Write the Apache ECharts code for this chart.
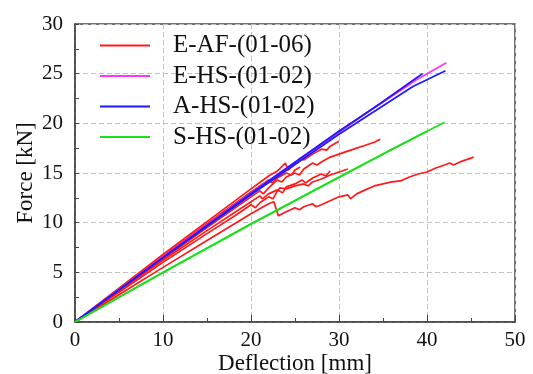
<!DOCTYPE html>
<html>
<head>
<meta charset="utf-8">
<script src="https://cdn.jsdelivr.net/npm/echarts@6/dist/echarts.min.js"></script>
<style>
html,body{margin:0;padding:0;background:#fff;}
#c{width:533px;height:374px;}
</style>
</head>
<body>
<div id="c"></div>
<script>
// ---- data (Deflection [mm], Force [kN]) ----
const xTicks = [0, 10, 20, 30, 40, 50];
const yTicks = [0, 5, 10, 15, 20, 25, 30];
const legendNames = ['E-AF-(01-06)', 'E-HS-(01-02)', 'A-HS-(01-02)', 'S-HS-(01-02)'];

const eaf1 = [[0,0],[5,3.4],[10,6.8],[15,10.1],[20,13.4],[22,14.7],[23,15.2],[23.9,16.0],[24.2,15.3],[25,15.9],[25.6,16.5],[26,16.3],[27,16.9],[28,17.4],[28.6,17.3],[29,17.7],[30,18.2]];
const eaf2 = [[0,0],[5,3.2],[10,6.3],[15,9.5],[20,12.6],[21,13.2],[21.4,12.9],[22,13.5],[23,14.3],[23.5,14.1],[24,14.6],[25,15.0],[25.5,14.8],[26,15.4],[27,16.0],[27.5,15.8],[28,16.1],[29,16.6],[30,16.9],[31,17.2],[32,17.5],[33,17.8],[34,18.1],[34.7,18.4]];
const eaf3 = [[0,0],[5,3.15],[10,6.2],[15,9.2],[20,12.1],[21,12.7],[21.3,12.4],[22,12.9],[23,13.3],[23.6,13.0],[24,13.6],[25,13.9],[25.8,14.3],[26.2,14.0],[27,14.5],[28,14.9],[28.5,14.7],[29,15.2]];
const eaf4 = [[0,0],[5,3.0],[10,6.0],[15,8.9],[18,10.6],[19,11.2],[20,11.8],[20.5,11.5],[21,12.0],[22,12.6],[22.5,12.4],[23,13.2],[23.3,13.5],[24,13.4],[25,13.7],[26,13.9],[26.5,13.7],[27,14.1],[28,14.4],[29,14.8],[30,15.1],[31,15.4]];
const eaf5 = [[0,0],[5,2.75],[10,5.5],[15,8.2],[20,10.9],[21,11.4],[22,11.9],[22.6,12.1],[23.1,10.7],[24,11.1],[25,11.5],[25.5,11.3],[26,11.6],[27,11.9],[27.4,11.6],[28,11.8],[29,12.2],[30,12.6],[31,12.8],[31.3,12.4],[32,12.9],[33,13.3],[34,13.7],[35,13.9],[36,14.1],[37,14.2],[38,14.6],[39,14.9],[40,15.1],[41,15.5],[42,15.8],[42.6,16.0],[43,15.8],[44,16.2],[45,16.5],[45.3,16.6]];
const eaf6 = [[0,0],[5,3.3],[10,6.6],[15,9.9],[20,13.1],[22,14.3],[22.4,14.0],[23,14.5],[24,15.0],[24.6,14.8],[25,15.3],[25.6,15.6]];

const ehs1 = [[0,0],[10,6.55],[20,13.0],[30,19.2],[39.2,24.6],[42.2,26.1]];
const ehs2 = [[0,0],[10,6.5],[20,12.9],[30,19.1],[39,24.7]];

const ahs1 = [[0,0],[10,6.5],[20,12.95],[30,19.2],[34.7,22.0],[39.5,25.0]];
const ahs2 = [[0,0],[10,6.45],[20,12.8],[30,18.9],[34.7,21.6],[38.4,23.7],[42.1,25.3]];

const shs1 = [[0,0],[10,5.0],[20,9.9],[30,14.6],[36,17.4],[42,20.1]];
const shs2 = [[0,0],[10,4.95],[20,9.85],[30,14.55],[35,16.9],[40,19.2]];

const colors = {eaf:'#ff1a1a', ehs:'#ff33ff', ahs:'#1a1aff', shs:'#19e019'};

function mk(name, data, color){
  return {name:name, type:'line', data:data, showSymbol:false, symbol:'none',
    lineStyle:{color:color, width:1.7}, itemStyle:{color:color}, animation:false};
}

const series = [
  mk(legendNames[0], eaf5, colors.eaf),
  mk(legendNames[0], eaf4, colors.eaf),
  mk(legendNames[0], eaf3, colors.eaf),
  mk(legendNames[0], eaf2, colors.eaf),
  mk(legendNames[0], eaf6, colors.eaf),
  mk(legendNames[0], eaf1, colors.eaf),
  mk(legendNames[1], ehs1, colors.ehs),
  mk(legendNames[1], ehs2, colors.ehs),
  mk(legendNames[2], ahs1, colors.ahs),
  mk(legendNames[2], ahs2, colors.ahs),
  mk(legendNames[3], shs1, colors.shs),
  mk(legendNames[3], shs2, colors.shs)
];

const font = 'Liberation Serif';
const chart = echarts.init(document.getElementById('c'), null, {renderer:'canvas'});
chart.setOption({
  backgroundColor:'#fff',
  animation:false,
  grid:{left:75, right:18, top:24, bottom:52, containLabel:false, outerBoundsMode:'none',
    show:true, borderColor:'#444', borderWidth:1.5, backgroundColor:'transparent'},
  legend:{
    data:legendNames, orient:'vertical', left:95, top:28,
    icon:'rect', itemWidth:50, itemHeight:2, itemGap:5.5,
    textStyle:{fontFamily:font, fontSize:25, lineHeight:24, color:'#111', padding:[0,0,0,18]}
  },
  xAxis:{
    type:'value', min:xTicks[0], max:xTicks[xTicks.length-1], interval:10,
    name:'Deflection [mm]', nameLocation:'middle', nameGap:30, nameMoveOverlap:false,
    nameTextStyle:{fontFamily:font, fontSize:23, color:'#111'},
    axisLine:{show:true, lineStyle:{color:'#444', width:1.5}},
    axisTick:{show:true, inside:true, length:7, lineStyle:{color:'#444'}},
    minorTick:{show:true, splitNumber:2, length:4, lineStyle:{color:'#444'}},
    axisLabel:{fontFamily:font, fontSize:21, color:'#111', margin:8},
    splitLine:{show:true, lineStyle:{color:'#c0c0c0', type:[5,3], width:1}}
  },
  yAxis:{
    type:'value', min:yTicks[0], max:yTicks[yTicks.length-1], interval:5,
    name:'Force [kN]', nameLocation:'middle', nameGap:38, nameMoveOverlap:false,
    nameTextStyle:{fontFamily:font, fontSize:23, color:'#111'},
    axisLine:{show:true, lineStyle:{color:'#444', width:1.5}},
    axisTick:{show:true, inside:true, length:4, lineStyle:{color:'#444'}},
    minorTick:{show:true, splitNumber:2, length:4, lineStyle:{color:'#444'}},
    axisLabel:{fontFamily:font, fontSize:21, color:'#111', margin:12},
    splitLine:{show:true, lineStyle:{color:'#c0c0c0', type:[5,3], width:1}}
  },
  series:series
});
</script>
</body>
</html>
